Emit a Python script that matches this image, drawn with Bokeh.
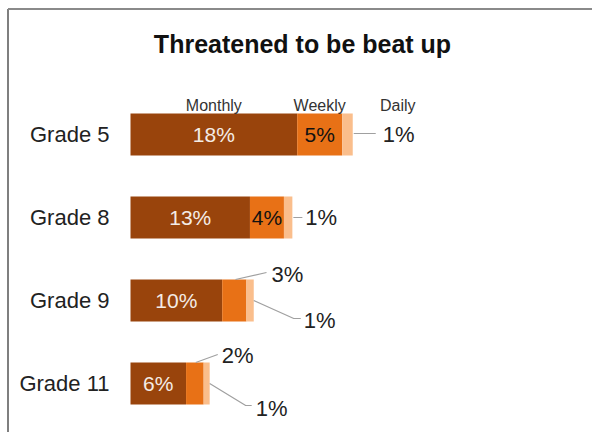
from bokeh.plotting import figure
from bokeh.models import Range1d
from bokeh.core.properties import value
from bokeh.embed import file_html
from bokeh.resources import INLINE

# ---------------- data ----------------
title = "Threatened to be beat up"
grades = ["Grade 5", "Grade 8", "Grade 9", "Grade 11"]
series = ["Monthly", "Weekly", "Daily"]
monthly = [18.0, 12.9, 9.9, 6.0]
weekly = [4.86, 3.67, 2.62, 1.9]
daily = [1.14, 0.91, 0.79, 0.65]
monthly_labels = ["18%", "13%", "10%", "6%"]
weekly_labels = ["5%", "4%", "3%", "2%"]
daily_labels = ["1%", "1%", "1%", "1%"]

# ---------------- layout ----------------
W, H = 592, 432
PX = 9.26      # pixels per percent
OX = 130       # pixel x of 0%
PY = 83        # pixels per category
OY = 134       # pixel y (from top) of first category
BAR_H = 42 / PY
FONT = value("Liberation Sans")
C_MONTH, C_WEEK, C_DAY = "#99440c", "#e87116", "#fabe8c"
LEADER = "#a0a0a0"
TXT = "#222222"

# weekly labels drawn outside (row index -> leader/label pixel offsets from top of segment)
weekly_outside = {2: ([(0, 0), (31, -7)], (36, -5)),
                  3: ([(0, 0), (22, -8)], (26, -7))}
# daily labels (row -> leader offsets from bar end middle, label offset)
daily_layout = {0: ([(1, -1), (23, -1)], (30, 0)),
                1: ([(1, 0), (10, 0)], (13, 0)),
                2: ([(0, 0), (40, 18), (47, 18)], (50, 20)),
                3: ([(0, 0), (36, 22), (42, 22)], (46, 25))}

x0, x1 = -OX / PX, (W - OX) / PX
ytop, ybot = -OY / PY, (H - OY) / PY
p = figure(width=W, height=H,
           x_range=Range1d(x0, x1),
           y_range=Range1d(ybot, ytop),
           output_backend="svg", toolbar_location=None, min_border=0,
           x_axis_location=None, y_axis_location=None,
           outline_line_color=None, background_fill_color="white",
           border_fill_color="white")
p.grid.visible = False

ypos = list(range(len(grades)))
m_end = monthly[:]
w_end = [m + w for m, w in zip(monthly, weekly)]
d_end = [w + d for w, d in zip(w_end, daily)]

p.hbar(y=ypos, left=[0] * len(ypos), right=m_end, height=BAR_H, color=C_MONTH, line_color=None)
p.hbar(y=ypos, left=m_end, right=w_end, height=BAR_H, color=C_WEEK, line_color=None)
p.hbar(y=ypos, left=w_end, right=d_end, height=BAR_H, color=C_DAY, line_color=None)

# border (top & left) of the original cropped picture
bx = x0 + 7.5 / PX
by = ytop + 8.5 / PY
p.line(x=[bx, bx], y=[by, ybot + 1], line_color="#555555", line_width=1.5)
p.line(x=[bx, x1 + 1], y=[by, by], line_color="#8a8a8a", line_width=2)

# title
p.text(x=[(302 - OX) / PX], y=[(43 - OY) / PY], text=[title],
       text_font=FONT, text_font_size="25px", text_font_style="bold",
       text_align="center", text_baseline="alphabetic", text_color="#111111")

# series headers
hdr_y = -0.5 * BAR_H - 8 / PY
d5_label_x = d_end[0] + daily_layout[0][1][0] / PX
p.text(x=[monthly[0] / 2, monthly[0] + weekly[0] / 2, d5_label_x + 15 / PX],
       y=[hdr_y] * 3, text=series, text_font=FONT, text_font_size="16px",
       text_align="center", text_baseline="alphabetic", text_color="#333333")

# grade labels
p.text(x=[0] * len(ypos), y=ypos, text=grades, x_offset=-21,
       text_font=FONT, text_font_size="22px", text_align="right",
       text_baseline="middle", text_color=TXT)

# monthly labels (inside, white)
p.text(x=[m / 2 for m in monthly], y=ypos, text=monthly_labels,
       text_font=FONT, text_font_size="21px", text_align="center",
       text_baseline="middle", text_color="#f4ece6")

# weekly labels
in_idx = [i for i in ypos if i not in weekly_outside]
p.text(x=[monthly[i] + weekly[i] / 2 for i in in_idx], y=[ypos[i] for i in in_idx],
       text=[weekly_labels[i] for i in in_idx], text_font=FONT, text_font_size="21px",
       text_align="center", text_baseline="middle", text_color="#111111")

xs, ys, lx, ly, lt = [], [], [], [], []
for i, (pts, lab) in weekly_outside.items():
    ax = monthly[i] + weekly[i] * 0.55
    ay = ypos[i] - BAR_H / 2
    xs.append([ax + dx / PX for dx, dy in pts])
    ys.append([ay + dy / PY for dx, dy in pts])
    lx.append(ax + lab[0] / PX)
    ly.append(ay + lab[1] / PY)
    lt.append(weekly_labels[i])
for i, (pts, lab) in daily_layout.items():
    ax = d_end[i]
    ay = ypos[i]
    xs.append([ax + dx / PX for dx, dy in pts])
    ys.append([ay + dy / PY for dx, dy in pts])
    lx.append(ax + lab[0] / PX)
    ly.append(ay + lab[1] / PY)
    lt.append(daily_labels[i])

p.multi_line(xs=xs, ys=ys, line_color=LEADER, line_width=1.2)
p.text(x=lx, y=ly, text=lt, text_font=FONT, text_font_size="22px",
       text_align="left", text_baseline="middle", text_color=TXT)

open("out.html", "w").write(file_html(p, INLINE))
